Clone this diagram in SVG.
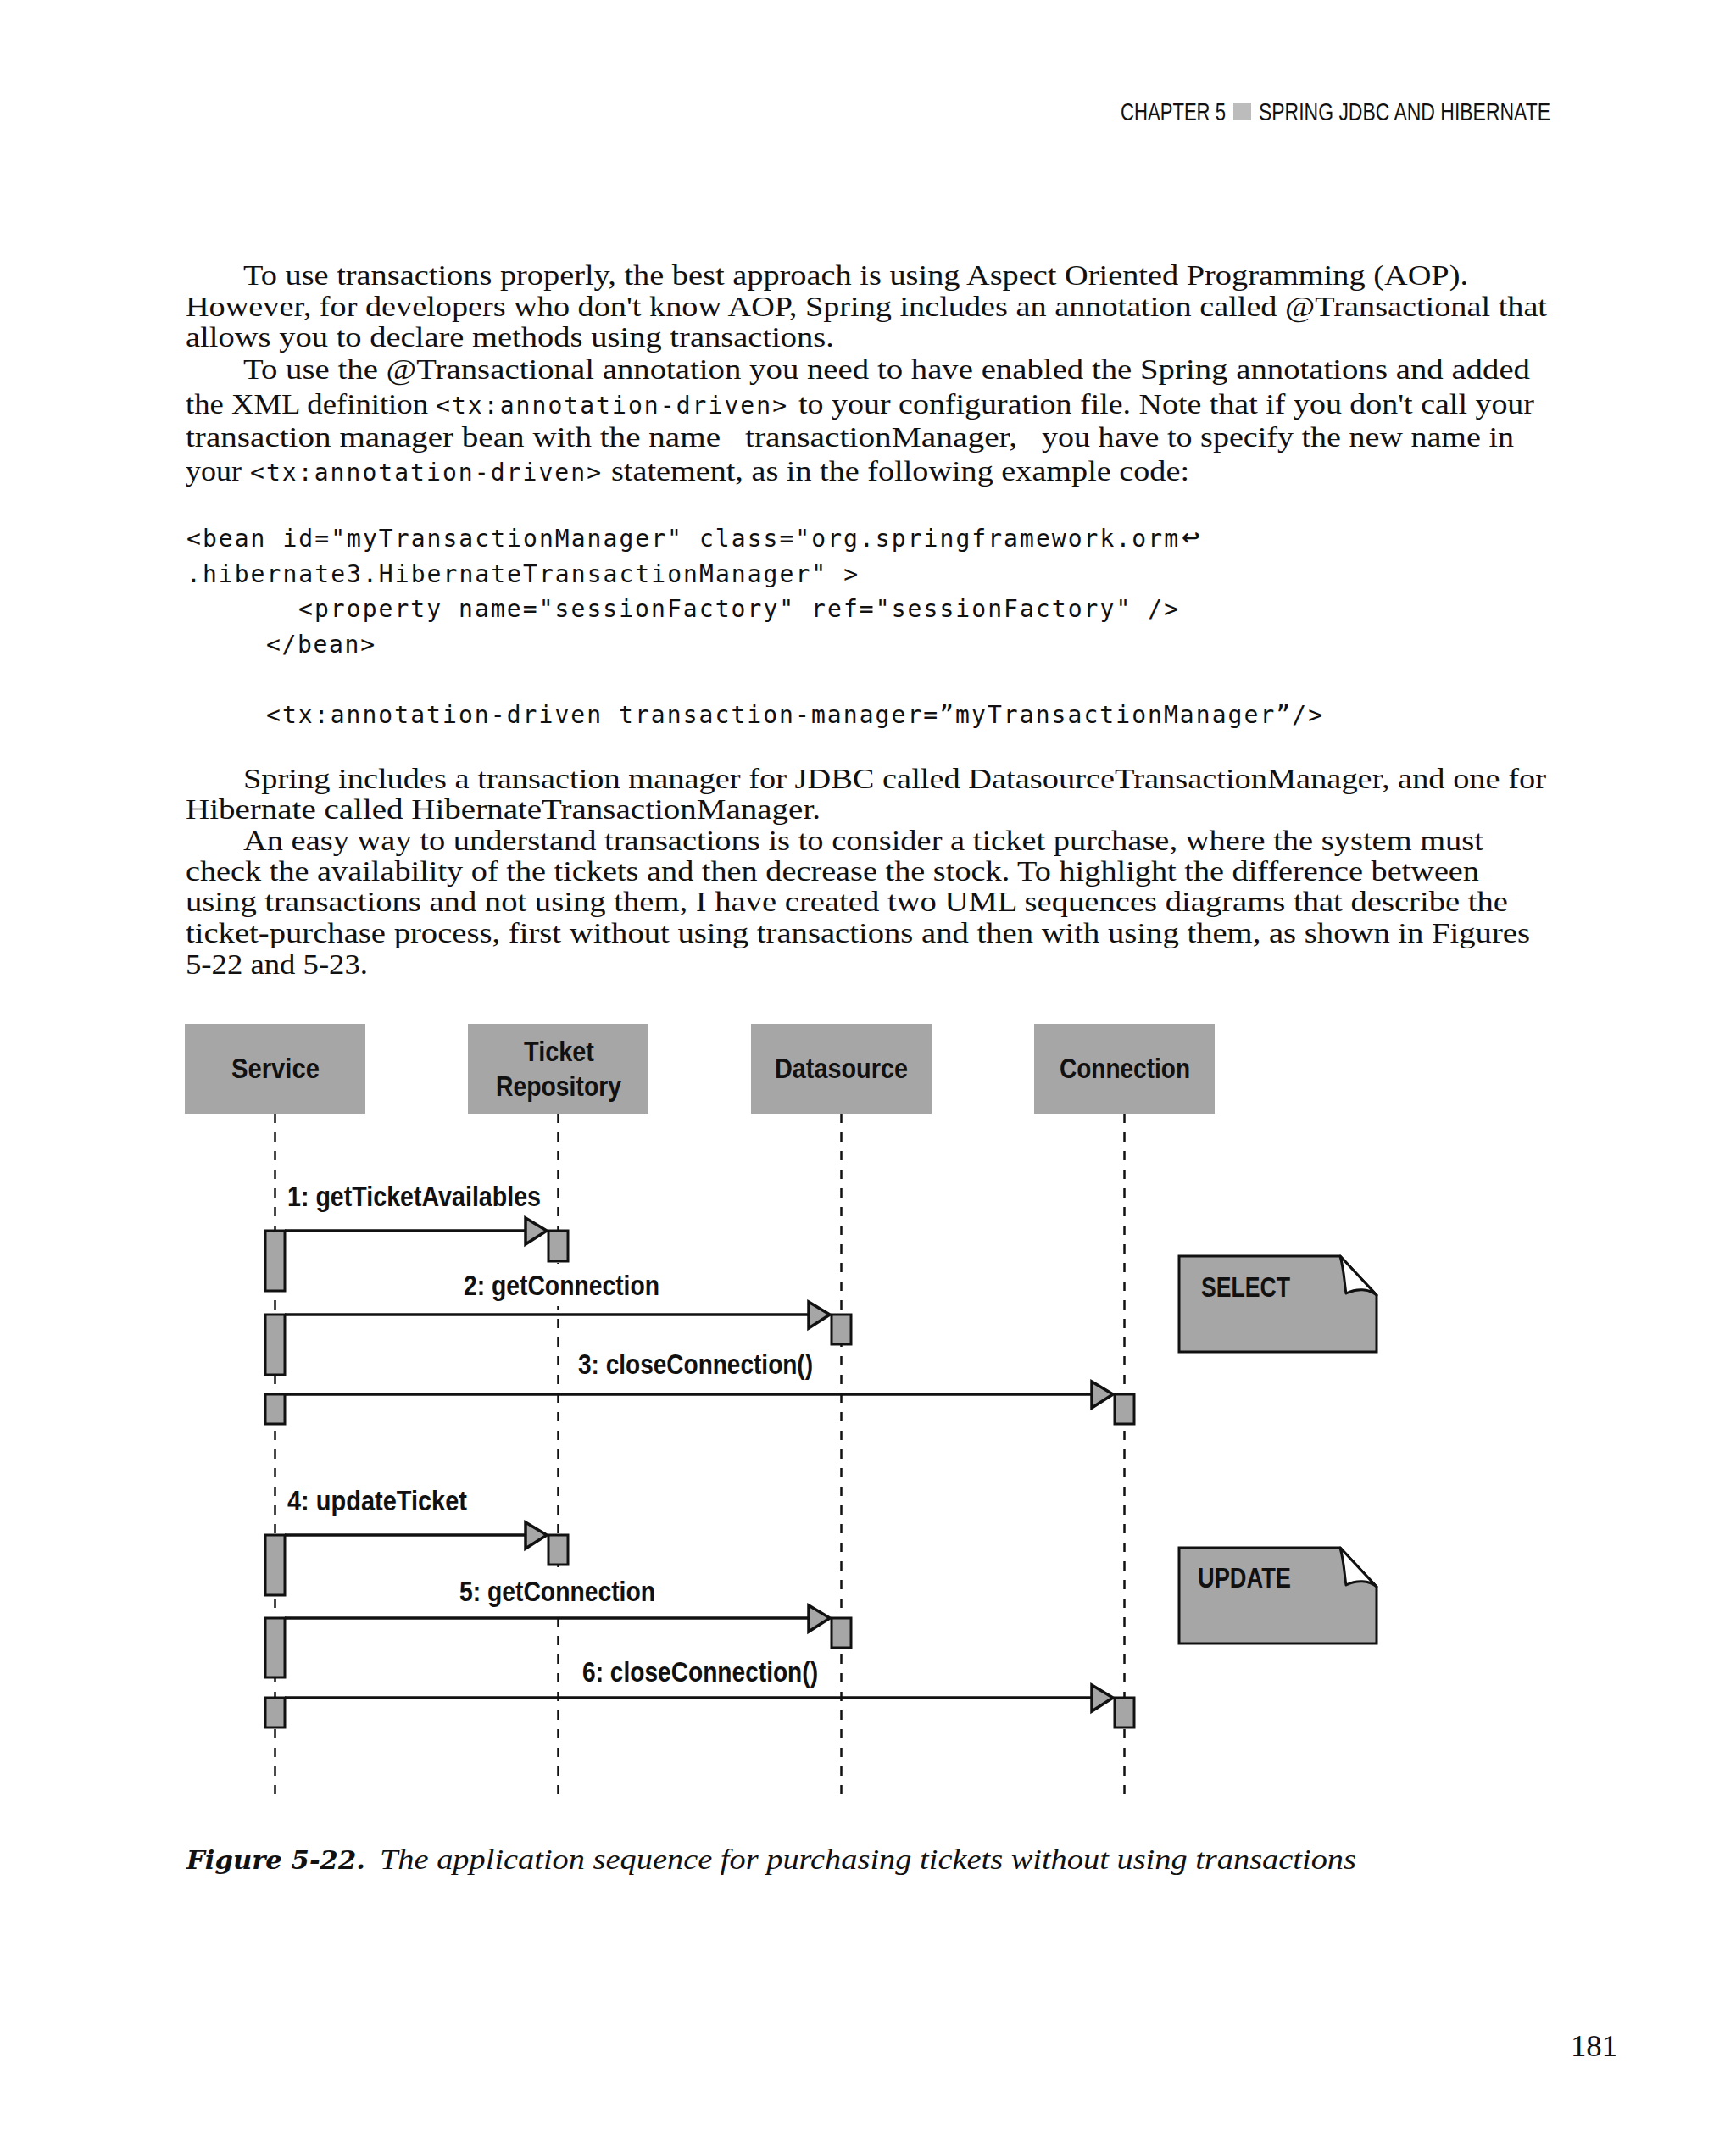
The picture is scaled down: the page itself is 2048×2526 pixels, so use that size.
<svg xmlns="http://www.w3.org/2000/svg" width="2048" height="2526" viewBox="0 0 2048 2526">
<defs>
<style>
.hdr{font-family:"Liberation Sans","DejaVu Sans",sans-serif;font-size:29px;fill:#111}
.body{font-family:"Liberation Serif","DejaVu Serif",serif;font-size:34px;fill:#111}
.mono{font-family:"DejaVu Sans Mono","Liberation Mono",monospace;font-size:28px;fill:#111}
.cap{font-family:"Liberation Serif","DejaVu Serif",serif;font-size:33px;font-style:italic;fill:#111}
.capb{font-family:"DejaVu Serif","Liberation Serif",serif;font-size:30px;font-style:italic;font-weight:bold;fill:#111}
.lbl{font-family:"Liberation Sans","DejaVu Sans",sans-serif;font-size:33px;font-weight:bold;fill:#111}
.box{fill:#a6a6a6}
.life{stroke:#111;stroke-width:2.5;stroke-dasharray:11 11;fill:none}
.bar{fill:#a6a6a6;stroke:#111;stroke-width:3}
.msg{stroke:#111;stroke-width:3.5;fill:none}
.head{fill:#a6a6a6;stroke:#111;stroke-width:3.5;stroke-linejoin:miter}
.note{fill:#a6a6a6;stroke:#111;stroke-width:3}
.ear{fill:#fff;stroke:#111;stroke-width:3;stroke-linejoin:round}
.mask{fill:#fff}
</style>
<g id="noteShape">
<path class="note" d="M0,0 H190 L233,46 V113 H0 Z"/>
<path class="ear" d="M190,0 C195,18 195,33 197,44 C209,38 224,38 233,46 Z"/>
</g>
</defs>
<rect width="2048" height="2526" fill="#fff"/>

<g id="header">
<text class="hdr" x="1322" y="142" textLength="124" lengthAdjust="spacingAndGlyphs">CHAPTER 5</text>
<rect x="1455" y="121" width="21" height="21" fill="#bcbcbc"/>
<text class="hdr" x="1485" y="142" textLength="344" lengthAdjust="spacingAndGlyphs">SPRING JDBC AND HIBERNATE</text>
</g>

<g id="text-intro">
<text class="body" x="287" y="336" textLength="1445" lengthAdjust="spacingAndGlyphs">To use transactions properly, the best approach is using Aspect Oriented Programming (AOP).</text>
<text class="body" x="219" y="373" textLength="1606" lengthAdjust="spacingAndGlyphs">However, for developers who don't know AOP, Spring includes an annotation called @Transactional that</text>
<text class="body" x="219" y="409" textLength="765" lengthAdjust="spacingAndGlyphs">allows you to declare methods using transactions.</text>
<text class="body" x="287" y="447" textLength="1518" lengthAdjust="spacingAndGlyphs">To use the @Transactional annotation you need to have enabled the Spring annotations and added</text>
<text class="body" x="219" y="488" textLength="286" lengthAdjust="spacingAndGlyphs">the XML definition</text>
<text class="mono" x="514" y="488" textLength="414" lengthAdjust="spacing">&lt;tx:annotation-driven&gt;</text>
<text class="body" x="942" y="488" textLength="868" lengthAdjust="spacingAndGlyphs">to your configuration file. Note that if you don't call your</text>
<text class="body" x="219" y="527" textLength="631" lengthAdjust="spacingAndGlyphs">transaction manager bean with the name</text>
<text class="body" x="879" y="527" textLength="321" lengthAdjust="spacingAndGlyphs">transactionManager,</text>
<text class="body" x="1229" y="527" textLength="557" lengthAdjust="spacingAndGlyphs">you have to specify the new name in</text>
<text class="body" x="219" y="567" textLength="66" lengthAdjust="spacingAndGlyphs">your</text>
<text class="mono" x="295" y="567" textLength="414" lengthAdjust="spacing">&lt;tx:annotation-driven&gt;</text>
<text class="body" x="721" y="567" textLength="682" lengthAdjust="spacingAndGlyphs">statement, as in the following example code:</text>
</g>

<g id="code">
<text class="mono" x="220" y="645" textLength="1170" lengthAdjust="spacing">&lt;bean id="myTransactionManager" class="org.springframework.orm</text>
<text x="1394" y="643" font-family="DejaVu Sans,sans-serif" font-size="26" font-weight="bold" fill="#111">↩</text>
<text class="mono" x="220" y="687" textLength="792" lengthAdjust="spacing">.hibernate3.HibernateTransactionManager" &gt;</text>
<text class="mono" x="352" y="728" textLength="1038" lengthAdjust="spacing">&lt;property name="sessionFactory" ref="sessionFactory" /&gt;</text>
<text class="mono" x="314" y="770" textLength="128" lengthAdjust="spacing">&lt;/bean&gt;</text>
<text class="mono" x="314" y="853" textLength="1246" lengthAdjust="spacing">&lt;tx:annotation-driven transaction-manager=”myTransactionManager”/&gt;</text>
</g>

<g id="text-explain">
<text class="body" x="287" y="930" textLength="1537" lengthAdjust="spacingAndGlyphs">Spring includes a transaction manager for JDBC called DatasourceTransactionManager, and one for</text>
<text class="body" x="219" y="966" textLength="749" lengthAdjust="spacingAndGlyphs">Hibernate called HibernateTransactionManager.</text>
<text class="body" x="287" y="1003" textLength="1463" lengthAdjust="spacingAndGlyphs">An easy way to understand transactions is to consider a ticket purchase, where the system must</text>
<text class="body" x="219" y="1039" textLength="1526" lengthAdjust="spacingAndGlyphs">check the availability of the tickets and then decrease the stock. To highlight the difference between</text>
<text class="body" x="219" y="1075" textLength="1560" lengthAdjust="spacingAndGlyphs">using transactions and not using them, I have created two UML sequences diagrams that describe the</text>
<text class="body" x="219" y="1112" textLength="1586" lengthAdjust="spacingAndGlyphs">ticket-purchase process, first without using transactions and then with using them, as shown in Figures</text>
<text class="body" x="219" y="1149" textLength="215" lengthAdjust="spacingAndGlyphs">5-22 and 5-23.</text>
</g>

<g id="lifelines">
<line class="life" x1="324.5" y1="1314" x2="324.5" y2="2117"/>
<line class="life" x1="658.5" y1="1314" x2="658.5" y2="2117"/>
<line class="life" x1="992.5" y1="1314" x2="992.5" y2="2117"/>
<line class="life" x1="1326.5" y1="1314" x2="1326.5" y2="2117"/>
</g>

<g id="service">
<rect class="box" x="218" y="1208" width="213" height="106"/>
<text class="lbl" x="273" y="1272" textLength="104" lengthAdjust="spacingAndGlyphs">Service</text>
<rect class="bar" x="313" y="1452" width="23" height="71"/>
<rect class="bar" x="313" y="1551" width="23" height="71"/>
<rect class="bar" x="313" y="1645" width="23" height="35"/>
<rect class="bar" x="313" y="1811" width="23" height="71"/>
<rect class="bar" x="313" y="1909" width="23" height="70"/>
<rect class="bar" x="313" y="2003" width="23" height="35"/>
</g>

<g id="ticketRepository">
<rect class="box" x="552" y="1208" width="213" height="106"/>
<text class="lbl" x="618" y="1252" textLength="83" lengthAdjust="spacingAndGlyphs">Ticket</text>
<text class="lbl" x="585" y="1293" textLength="148" lengthAdjust="spacingAndGlyphs">Repository</text>
<rect class="bar" x="647" y="1452" width="23" height="36"/>
<rect class="bar" x="647" y="1811" width="23" height="35"/>
</g>

<g id="datasource">
<rect class="box" x="886" y="1208" width="213" height="106"/>
<text class="lbl" x="914" y="1272" textLength="157" lengthAdjust="spacingAndGlyphs">Datasource</text>
<rect class="bar" x="981" y="1551" width="23" height="35"/>
<rect class="bar" x="981" y="1909" width="23" height="35"/>
</g>

<g id="connection">
<rect class="box" x="1220" y="1208" width="213" height="106"/>
<text class="lbl" x="1250" y="1272" textLength="154" lengthAdjust="spacingAndGlyphs">Connection</text>
<rect class="bar" x="1315" y="1645" width="23" height="35"/>
<rect class="bar" x="1315" y="2003" width="23" height="35"/>
</g>

<g id="connectors">
<line class="msg" x1="336" y1="1452" x2="620" y2="1452"/>
<path class="head" d="M620,1437 L645,1452 L620,1468 Z"/>
<text class="lbl" x="339" y="1423" textLength="299" lengthAdjust="spacingAndGlyphs">1: getTicketAvailables</text>

<line class="msg" x1="336" y1="1551" x2="954" y2="1551"/>
<path class="head" d="M954,1536 L979,1551 L954,1567 Z"/>
<rect class="mask" x="545" y="1491" width="236" height="50"/>
<text class="lbl" x="547" y="1528" textLength="231" lengthAdjust="spacingAndGlyphs">2: getConnection</text>

<line class="msg" x1="336" y1="1645" x2="1288" y2="1645"/>
<path class="head" d="M1288,1630 L1313,1645 L1288,1661 Z"/>
<text class="lbl" x="682" y="1621" textLength="277" lengthAdjust="spacingAndGlyphs">3: closeConnection()</text>

<line class="msg" x1="336" y1="1811" x2="620" y2="1811"/>
<path class="head" d="M620,1796 L645,1811 L620,1827 Z"/>
<text class="lbl" x="339" y="1782" textLength="212" lengthAdjust="spacingAndGlyphs">4: updateTicket</text>

<line class="msg" x1="336" y1="1909" x2="954" y2="1909"/>
<path class="head" d="M954,1894 L979,1909 L954,1925 Z"/>
<rect class="mask" x="540" y="1849" width="236" height="49"/>
<text class="lbl" x="542" y="1889" textLength="231" lengthAdjust="spacingAndGlyphs">5: getConnection</text>

<line class="msg" x1="336" y1="2003" x2="1288" y2="2003"/>
<path class="head" d="M1288,1988 L1313,2003 L1288,2019 Z"/>
<text class="lbl" x="687" y="1984" textLength="278" lengthAdjust="spacingAndGlyphs">6: closeConnection()</text>
</g>

<g id="noteSelect">
<use href="#noteShape" x="1391" y="1482"/>
<text class="lbl" x="1417" y="1530" font-size="37" textLength="105" lengthAdjust="spacingAndGlyphs">SELECT</text>
</g>

<g id="noteUpdate">
<use href="#noteShape" x="1391" y="1826"/>
<text class="lbl" x="1413" y="1873" font-size="37" textLength="110" lengthAdjust="spacingAndGlyphs">UPDATE</text>
</g>

<g id="caption">
<text class="capb" x="220" y="2205" textLength="211" lengthAdjust="spacingAndGlyphs">Figure 5-22.</text>
<text class="cap" x="448" y="2205" textLength="1152" lengthAdjust="spacingAndGlyphs">The application sequence for purchasing tickets without using transactions</text>
</g>

<text x="1853" y="2426" font-family="Liberation Serif,serif" font-size="36" fill="#111" textLength="55" lengthAdjust="spacingAndGlyphs">181</text>
</svg>
